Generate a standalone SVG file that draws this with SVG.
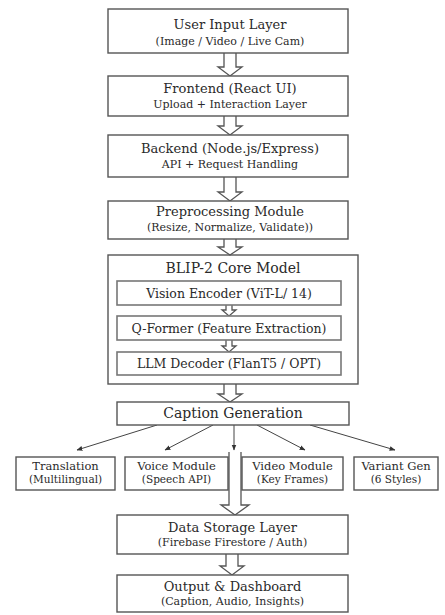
<svg xmlns="http://www.w3.org/2000/svg" width="445" height="615" viewBox="0 0 445 615">
<defs>
<marker id="ah" viewBox="0 0 10 10" refX="9" refY="5" markerWidth="6" markerHeight="6" orient="auto" markerUnits="userSpaceOnUse">
<path d="M0,1 L10,5 L0,9 Z" fill="#333"/>
</marker>
</defs>
<style>
rect.b{fill:#fff;stroke:#555;stroke-width:1.4}
rect.o{fill:none;stroke:#555;stroke-width:1.4}
rect.i{fill:#fff;stroke:#777;stroke-width:1.6}
text{font-family:"DejaVu Serif","Liberation Serif",serif;fill:#2a2a2a;text-anchor:middle}
.t{font-size:13px}
.s{font-size:11px}
.h{font-size:14px}
.m{font-size:12.5px}
.st{font-size:11.5px}
.ss{font-size:10.5px}
.ha{fill:#fff;stroke:#555;stroke-width:1.3}
.fl{stroke:#444;stroke-width:1;fill:none}
</style>
<rect width="445" height="615" fill="#fff"/>
<g id="connectors">
<path class="ha" d="M224,53 L224,67 L218,67 L230,76 L242,67 L236,67 L236,53"/>
<path class="ha" d="M224,116 L224,126 L218,126 L230,135 L242,126 L236,126 L236,116"/>
<path class="ha" d="M224,177 L224,192 L218,192 L230,201 L242,192 L236,192 L236,177"/>
<path class="ha" d="M224,239 L224,247 L218,247 L230,255 L242,247 L236,247 L236,239"/>
<path class="ha" d="M226,305 L226,310 L222,310 L229,316 L236,310 L232,310 L232,305"/>
<path class="ha" d="M226,340 L226,346 L222,346 L229,352 L236,346 L232,346 L232,340"/>
<path class="ha" d="M224,384 L224,394 L218,394 L230,402 L242,394 L236,394 L236,384"/>
<path class="ha" d="M229,452 L229,505 L221,505 L235,515 L249,505 L241,505 L241,452"/>
<path class="ha" d="M226,554 L226,566 L220,566 L232,575 L244,566 L238,566 L238,554"/>
<line class="fl" x1="157" y1="425" x2="77" y2="450" marker-end="url(#ah)"/>
<line class="fl" x1="213" y1="425" x2="165" y2="450" marker-end="url(#ah)"/>
<line class="fl" x1="234" y1="425" x2="234" y2="450" marker-end="url(#ah)"/>
<line class="fl" x1="257" y1="425" x2="305" y2="450" marker-end="url(#ah)"/>
<line class="fl" x1="310" y1="425" x2="395" y2="450" marker-end="url(#ah)"/>
</g>
<g id="user-input">
<rect class="b" x="108" y="9" width="240" height="44"/>
<text class="t" x="230" y="29">User Input Layer</text>
<text class="s" x="230" y="45">(Image / Video / Live Cam)</text>
</g>
<g id="frontend">
<rect class="b" x="108" y="76" width="240" height="40"/>
<text class="t" x="230" y="93">Frontend (React UI)</text>
<text class="s" x="230" y="108">Upload + Interaction Layer</text>
</g>
<g id="backend">
<rect class="b" x="108" y="135" width="240" height="42"/>
<text class="t" x="230" y="153">Backend (Node.js/Express)</text>
<text class="s" x="230" y="168">API + Request Handling</text>
</g>
<g id="preprocessing">
<rect class="b" x="108" y="201" width="240" height="38"/>
<text class="t" x="230" y="216">Preprocessing Module</text>
<text class="s" x="230" y="231">(Resize, Normalize, Validate))</text>
</g>
<g id="blip2">
<rect class="o" x="108" y="255" width="250" height="129"/>
<text class="h" x="233" y="273">BLIP-2 Core Model</text>
</g>
<g id="vision-encoder">
<rect class="i" x="117" y="281" width="224" height="24"/>
<text class="m" x="229" y="298">Vision Encoder (ViT-L/ 14)</text>
</g>
<g id="qformer">
<rect class="i" x="117" y="316" width="224" height="24"/>
<text class="m" x="229" y="333">Q-Former (Feature Extraction)</text>
</g>
<g id="llm-decoder">
<rect class="i" x="117" y="352" width="224" height="23"/>
<text class="m" x="229" y="368">LLM Decoder (FlanT5 / OPT)</text>
</g>
<g id="caption">
<rect class="b" x="117" y="402" width="232" height="23"/>
<text class="h" x="233" y="418">Caption Generation</text>
</g>
<g id="translation">
<rect class="b" x="16" y="457" width="99" height="33"/>
<text class="st" x="65.5" y="470">Translation</text>
<text class="ss" x="65.5" y="483">(Multilingual)</text>
</g>
<g id="voice">
<rect class="b" x="125" y="457" width="103" height="33"/>
<text class="st" x="176.5" y="470">Voice Module</text>
<text class="ss" x="176.5" y="483">(Speech API)</text>
</g>
<g id="video">
<rect class="b" x="242" y="457" width="101" height="33"/>
<text class="st" x="292.5" y="470">Video Module</text>
<text class="ss" x="292.5" y="483">(Key Frames)</text>
</g>
<g id="variant">
<rect class="b" x="354" y="457" width="84" height="33"/>
<text class="st" x="396" y="470">Variant Gen</text>
<text class="ss" x="396" y="483">(6 Styles)</text>
</g>
<g id="data-storage">
<rect class="b" x="117" y="515" width="231" height="39"/>
<text class="t" x="232.5" y="532">Data Storage Layer</text>
<text class="s" x="232.5" y="546">(Firebase Firestore / Auth)</text>
</g>
<g id="output">
<rect class="b" x="117" y="575" width="231" height="37"/>
<text class="t" x="232.5" y="591">Output &amp; Dashboard</text>
<text class="s" x="232.5" y="605">(Caption, Audio, Insights)</text>
</g>
</svg>
